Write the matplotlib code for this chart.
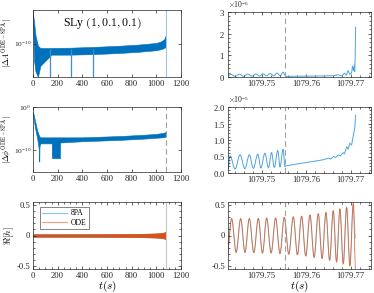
import matplotlib
matplotlib.use('Agg')
import matplotlib.pyplot as plt
import numpy as np
from matplotlib.path import Path
from matplotlib.patches import PathPatch
from matplotlib.ticker import FixedLocator, LogFormatterMathtext, AutoMinorLocator

plt.rcParams['font.family'] = 'serif'
plt.rcParams['font.serif'] = ['Liberation Serif', 'DejaVu Serif']
plt.rcParams['mathtext.fontset'] = 'cm'
plt.rcParams['axes.unicode_minus'] = False

# ---- full run, left column (envelopes of the dense bands) ----
# |dA| band, log10 exponents
tA = [0, 8, 20, 40, 60, 150, 300, 500, 700, 850, 950, 1000, 1040, 1065, 1075, 1079]
A_hi = [-4.7, -6.0, -8.5, -10.4, -10.8, -10.8, -10.75, -10.6, -10.4, -10.2, -10.0, -9.9, -9.6, -9.2, -8.6, -8.2]
A_lo = [-4.9, -13, -15, -16, -14, -12.0, -12.0, -11.9, -11.7, -11.5, -11.3, -11.2, -11.0, -10.8, -10.6, -10.3]
A_spike_t = [138, 308, 487]
A_spike_lo = -17

# |dphi| band, log10 exponents
tP = [0, 15, 35, 49, 51, 53, 60, 152, 153, 219, 220, 400, 700, 900, 1000, 1050, 1075, 1079]
P_hi = [-1.1, -3.0, -5.5, -6.6, -6.7, -6.8, -7.0, -7.0, -7.0, -7.0, -7.0, -7.0, -6.7, -6.4, -6.2, -6.0, -5.8, -5.6]
P_lo = [-1.8, -4.6, -7.5, -10.0, -12.6, -9.0, -8.4, -8.4, -11.8, -11.8, -8.2, -7.9, -7.6, -7.3, -7.1, -7.0, -6.9, -6.5]

# Re[h] envelope amplitude
tH = [0, 200, 400, 600, 800, 900, 1000, 1050, 1070, 1077, 1079.7]
H_amp = [0.022, 0.022, 0.023, 0.025, 0.028, 0.030, 0.035, 0.045, 0.055, 0.07, 0.10]

t_merge = 1079.7552

# ---- zoom, right column ----
# |dA| (x1e-6); first 17 points are the bumps before t_merge
tA_z = [1079.7424, 1079.7430, 1079.7440, 1079.7450, 1079.7459, 1079.7468, 1079.7478, 1079.7487,
        1079.7495, 1079.7503, 1079.7511, 1079.7519, 1079.7527, 1079.7534, 1079.7541, 1079.7548,
        1079.7552, 1079.7554, 1079.7600, 1079.7640, 1079.7660, 1079.7672, 1079.7680, 1079.7686,
        1079.7690, 1079.7694, 1079.7698, 1079.7702, 1079.7704, 1079.7706, 1079.7708, 1079.7709,
        1079.7710, 1079.7711]
dA_z = [0.05, 0.12, 0.03, 0.13, 0.03, 0.13, 0.04, 0.14, 0.04, 0.15, 0.05, 0.16, 0.05, 0.18, 0.06, 0.22,
        0.1, 0.03, 0.04, 0.05, 0.06, 0.1, 0.05, 0.18, 0.08, 0.3, 0.12, 0.2, 0.5, 0.3, 0.55, 0.25,
        0.9, 2.3]

# |dphi| (x1e-5); first 17 points are the bumps before t_merge
tP_z = [1079.7424, 1079.74285, 1079.7440, 1079.7451, 1079.7462, 1079.7472, 1079.7481, 1079.7491,
        1079.7498, 1079.7507, 1079.7515, 1079.7522, 1079.7528, 1079.7536, 1079.7541, 1079.7548,
        1079.7552, 1079.75559, 1079.7601, 1079.7638, 1079.7650, 1079.7655, 1079.7661, 1079.7666,
        1079.7672, 1079.7677, 1079.7683, 1079.7686, 1079.7691, 1079.7694, 1079.7698, 1079.7702,
        1079.7706, 1079.7709, 1079.7711]
dP_z = [0.1, 0.52, 0.12, 0.55, 0.13, 0.55, 0.14, 0.57, 0.15, 0.6, 0.16, 0.62, 0.17, 0.68, 0.18, 0.72,
        0.2, 0.22, 0.32, 0.4, 0.45, 0.42, 0.5, 0.47, 0.55, 0.52, 0.62, 0.58, 0.8, 0.72, 0.9, 0.85,
        1.15, 1.35, 1.75]
n_bumps = 17

# Re[h] extrema (peaks and troughs in time order)
th_z = [1079.74225, 1079.74322, 1079.74424, 1079.74525, 1079.74622, 1079.74719, 1079.74821, 1079.74922,
        1079.75016, 1079.75109, 1079.75210, 1079.75311, 1079.75409, 1079.75506, 1079.75607, 1079.75708,
        1079.75802, 1079.75895, 1079.75989, 1079.76083, 1079.76177, 1079.76270, 1079.76356, 1079.76442,
        1079.76525, 1079.76607, 1079.76682, 1079.76757, 1079.76832, 1079.76907, 1079.76982, 1079.77057,
        1079.77110]
h_ode = [-0.28, 0.28, -0.28, 0.28, -0.28, 0.28, -0.28, 0.28, -0.29, 0.29, -0.29, 0.29, -0.30, 0.30,
         -0.31, 0.31, -0.32, 0.32, -0.34, 0.34, -0.36, 0.36, -0.38, 0.38, -0.41, 0.41, -0.44, 0.44,
         -0.47, 0.47, -0.50, 0.53, -0.58]
h_8pa = [-0.27, 0.27, -0.27, 0.27, -0.27, 0.27, -0.28, 0.28, -0.28, 0.28, -0.28, 0.28, -0.29, 0.29,
         -0.30, 0.30, -0.31, 0.31, -0.33, 0.33, -0.35, 0.35, -0.37, 0.37, -0.40, 0.40, -0.42, 0.42,
         -0.45, 0.45, -0.48, 0.50, -0.05]

blue = '#0072BD'
lblue = '#4da3e0'
orange = '#D95319'
lorange = '#f0a080'
gray = '#a0a0a0'

fig = plt.figure(figsize=(3.74, 2.93), dpi=100)
W, H = 374, 293


def add_ax(x0, y0, x1, y1):
    return fig.add_axes([x0 / W, 1 - y1 / H, (x1 - x0) / W, (y1 - y0) / H])


def wave_patch(ax, t, v, **kw):
    # smooth curve through the extrema, drawn as cubic Bezier segments
    verts = [(t[0], v[0])]
    codes = [Path.MOVETO]
    for i in range(1, len(t)):
        d = (t[i] - t[i - 1]) * 0.36
        verts += [(t[i - 1] + d, v[i - 1]), (t[i] - d, v[i]), (t[i], v[i])]
        codes += [Path.CURVE4] * 3
    ax.add_patch(PathPatch(Path(verts, codes), fill=False, **kw))


axA = add_ax(33, 10, 181, 77)
axP = add_ax(33, 107, 181, 172)
axH = add_ax(33, 202, 181, 269)
axAz = add_ax(228, 12, 371, 77)
axPz = add_ax(228, 107, 371, 173)
axHz = add_ax(228, 202, 371, 269)

for ax in [axA, axP, axH, axAz, axPz, axHz]:
    ax.tick_params(direction='in', top=True, right=True, labelsize=6.2, length=2.5,
                   width=0.5, pad=2, colors='#262626')
    ax.tick_params(which='minor', direction='in', top=True, right=True, length=1.3, width=0.4)
    for s in ax.spines.values():
        s.set_linewidth(0.5)
        s.set_color('#262626')

# y labels of the left column, placed in figure pixels
fig.text(7 / W, 1 - 43.5 / H, r'$|\Delta A^{\rm ODE-8PA}|$', rotation=90,
         ha='center', va='center', fontsize=5.8)
fig.text(7 / W, 1 - 139.5 / H, r'$|\Delta\phi^{\rm ODE-8PA}|$', rotation=90,
         ha='center', va='center', fontsize=5.8)
fig.text(9 / W, 1 - 235.5 / H, r'$\Re[h]$', rotation=90,
         ha='center', va='center', fontsize=7)

# top-left
axA.fill_between(tA, 10.0 ** np.array(A_lo), 10.0 ** np.array(A_hi), color=blue, lw=0.4)
axA.vlines(A_spike_t, 10.0 ** A_spike_lo, 1e-11, color='#3d8fd0', lw=0.9)
axA.axvline(1079.7, color='#9cc8e8', lw=0.8)
axA.set_yscale('log')
axA.set_ylim(1e-16, 1e-4)
axA.set_xlim(0, 1200)
axA.yaxis.set_major_locator(FixedLocator([1e-10]))
axA.yaxis.set_major_formatter(LogFormatterMathtext())
axA.yaxis.set_minor_locator(FixedLocator([]))
axA.tick_params(axis='y', labelsize=5.4, pad=1.2)
axA.set_xticks(range(0, 1201, 200))
axA.text(0.47, 0.8, r'SLy $(1,0.1,0.1)$', transform=axA.transAxes, ha='center',
         va='center', fontsize=8.5)

# middle-left
axP.fill_between(tP, 10.0 ** np.array(P_lo), 10.0 ** np.array(P_hi), color=blue, lw=0.4)
axP.axvline(1079.7, color=gray, lw=0.8, ls=(0, (5, 3)))
axP.set_yscale('log')
axP.set_ylim(1e-15, 1e0)
axP.set_xlim(0, 1200)
axP.yaxis.set_major_locator(FixedLocator([1e-10, 1e0]))
axP.yaxis.set_major_formatter(LogFormatterMathtext())
axP.yaxis.set_minor_locator(FixedLocator([]))
axP.tick_params(axis='y', labelsize=5.4, pad=1.2)
axP.set_xticks(range(0, 1201, 200))

# bottom-left
amp = np.array(H_amp)
axH.fill_between(tH, -amp * 0.97, amp * 0.97, color=lblue, lw=0.3)
axH.fill_between(tH, -amp, amp, color=orange, lw=0.3)
axH.axvline(1079.7, color='#c8c8c8', lw=0.8)
axH.plot([], [], color='#8cc4ea', lw=0.8, label='8PA')
axH.plot([], [], color=lorange, lw=0.8, label='ODE')
axH.set_xlim(0, 1200)
axH.set_ylim(-0.55, 0.55)
axH.set_yticks([-0.5, 0, 0.5])
axH.set_yticklabels(['-0.5', '0', '0.5'])
axH.set_xticks(range(0, 1201, 200))
axH.xaxis.set_minor_locator(AutoMinorLocator(4))
axH.yaxis.set_minor_locator(AutoMinorLocator(5))
axH.set_xlabel(r'$t(s)$', fontsize=8)
axH.xaxis.set_label_coords(0.5, -0.14)
leg = axH.legend(loc='upper left', fontsize=5.5, handlelength=3.2, frameon=True,
                 fancybox=False, borderpad=0.3, labelspacing=0.2, handletextpad=0.6,
                 bbox_to_anchor=(0.02, 0.98))
leg.get_frame().set_linewidth(0.5)
leg.get_frame().set_edgecolor('#262626')

# right column
zx = (1079.7424, 1079.77456)
zt = [1079.75, 1079.76, 1079.77]
zl = ['1079.75', '1079.76', '1079.77']

dA_arr = np.array(dA_z) * 1e-6
wave_patch(axAz, tA_z[:n_bumps], dA_arr[:n_bumps], color=lblue, lw=0.7)
axAz.plot(tA_z[n_bumps - 1:], dA_arr[n_bumps - 1:], color=lblue, lw=0.7)
axAz.axvline(t_merge, color=gray, lw=0.8, ls=(0, (5, 3)))
axAz.set_ylim(0, 3e-6)
axAz.set_yticks([0, 1e-6, 2e-6, 3e-6])

dP_arr = np.array(dP_z) * 1e-5
wave_patch(axPz, tP_z[:n_bumps], dP_arr[:n_bumps], color=lblue, lw=0.7)
axPz.plot(tP_z[n_bumps - 1:], dP_arr[n_bumps - 1:], color=lblue, lw=0.7)
axPz.axvline(t_merge, color=gray, lw=0.8, ls=(0, (5, 3)))
axPz.set_ylim(0, 2e-5)
axPz.set_yticks([0, 0.5e-5, 1e-5, 1.5e-5, 2e-5])

wave_patch(axHz, th_z, h_8pa, color='#a8cce4', lw=0.8)
wave_patch(axHz, th_z, h_ode, color=orange, lw=0.6, alpha=0.8)
axHz.axvline(t_merge, color=gray, lw=0.8, ls=(0, (5, 3)))
axHz.set_ylim(-0.55, 0.55)
axHz.set_yticks([-0.5, 0, 0.5])
axHz.set_yticklabels(['-0.5', '0', '0.5'])
axHz.yaxis.set_minor_locator(AutoMinorLocator(5))
axHz.set_xlabel(r'$t(s)$', fontsize=8)
axHz.xaxis.set_label_coords(0.5, -0.14)

for ax in [axAz, axPz, axHz]:
    ax.set_xlim(*zx)
    ax.set_xticks(zt)
    ax.set_xticklabels(zl)
    ax.xaxis.set_minor_locator(AutoMinorLocator(5))
for ax in [axAz, axPz]:
    ax.ticklabel_format(axis='y', style='sci', scilimits=(0, 0), useMathText=True)
    ax.yaxis.get_offset_text().set_fontsize(5.5)
    ax.yaxis.get_offset_text().set_color('#262626')
    ax.yaxis.set_minor_locator(AutoMinorLocator(5))

fig.savefig('out.png', dpi=100)
